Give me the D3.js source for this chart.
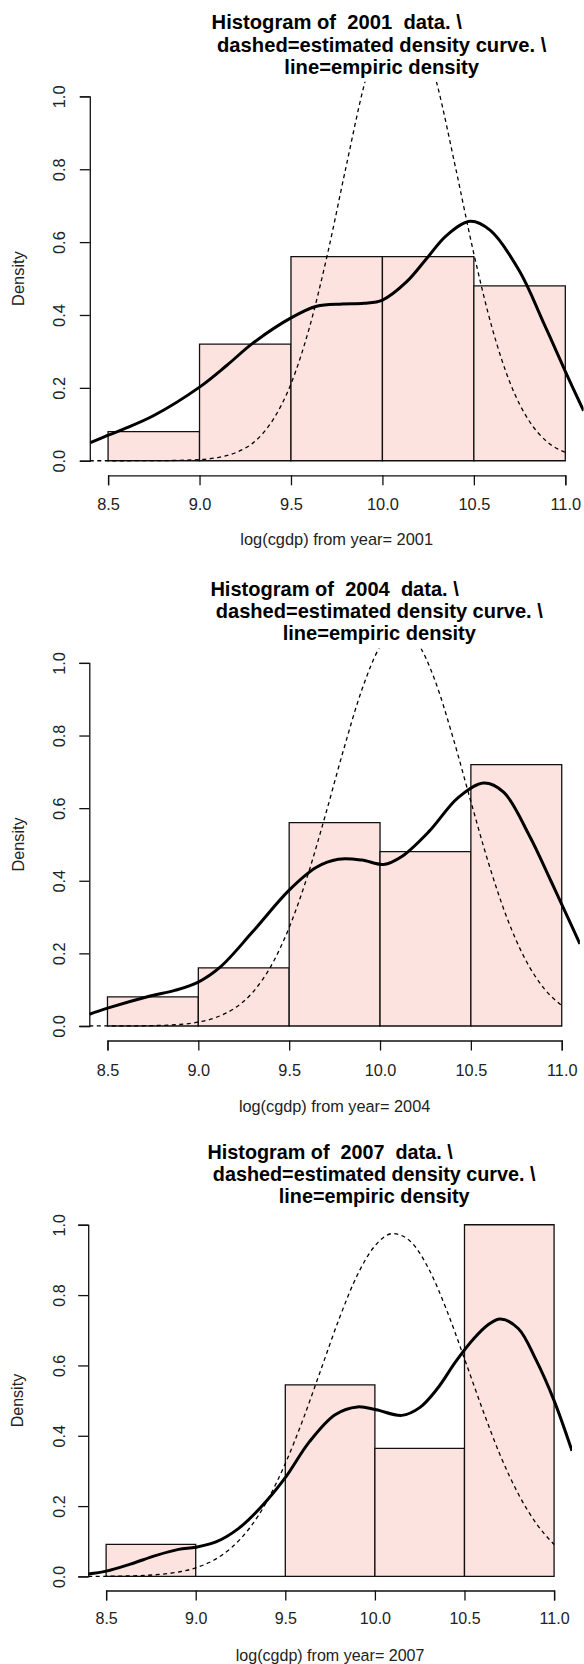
<!DOCTYPE html>
<html>
<head>
<meta charset="utf-8">
<script src="https://cdn.jsdelivr.net/npm/d3@7"></script>
<style>
  body { margin: 0; background: #fff; }
  svg { display: block; }
</style>
</head>
<body>
<div id="chart"></div>
<script>
// histogram breaks and axis ticks
var breaks = [8.5, 9.0, 9.5, 10.0, 10.5, 11.0];
var yTicks = [0, 0.2, 0.4, 0.6, 0.8, 1.0];
var years = ["2001", "2004", "2007"];

// bar densities per year
var dens2001 = [0.08, 0.32, 0.56, 0.56, 0.48];
var dens2004 = [0.08, 0.16, 0.56, 0.48, 0.72];
var dens2007 = [0.091, 0, 0.545, 0.364, 1.0];

// empiric density (solid)
var kdeX2001 = [8.4, 8.5, 8.6, 8.75, 9.0, 9.15, 9.29, 9.5, 9.64, 9.78, 9.9, 10.0, 10.13, 10.25, 10.35, 10.48, 10.59, 10.75, 10.88, 11.0, 11.1];
var kdeY2001 = [0.049, 0.07, 0.09, 0.124, 0.202, 0.262, 0.322, 0.392, 0.424, 0.43, 0.432, 0.441, 0.49, 0.56, 0.618, 0.657, 0.632, 0.52, 0.38, 0.245, 0.137];
var kdeX2004 = [8.4, 8.5, 8.73, 8.87, 9.0, 9.12, 9.3, 9.5, 9.65, 9.77, 9.9, 10.02, 10.12, 10.27, 10.43, 10.57, 10.68, 10.82, 10.94, 11.0, 11.1];
var kdeY2004 = [0.032, 0.049, 0.082, 0.098, 0.121, 0.162, 0.26, 0.374, 0.437, 0.459, 0.457, 0.445, 0.467, 0.536, 0.629, 0.669, 0.644, 0.526, 0.4, 0.335, 0.226];
var kdeX2007 = [8.4, 8.5, 8.635, 8.78, 8.905, 9.0, 9.113, 9.238, 9.362, 9.5, 9.633, 9.778, 9.903, 10.007, 10.15, 10.25, 10.35, 10.45, 10.55, 10.63, 10.7, 10.8, 10.9, 11.0, 11.1];
var kdeY2007 = [0.007, 0.015, 0.035, 0.06, 0.077, 0.083, 0.098, 0.136, 0.196, 0.281, 0.382, 0.46, 0.482, 0.474, 0.458, 0.48, 0.535, 0.61, 0.675, 0.715, 0.732, 0.705, 0.615, 0.5, 0.357];

// estimated normal density (dashed)
var normX = [8.4, 8.6, 8.8, 9.0, 9.1, 9.2, 9.3, 9.4, 9.5, 9.6, 9.7, 9.8, 9.9, 10.0, 10.1, 10.2, 10.3, 10.4, 10.5, 10.6, 10.7, 10.8, 10.9, 11.0];
var normY2001 = [0, 0, 0.0003, 0.0031, 0.0088, 0.0226, 0.052, 0.111, 0.211, 0.364, 0.568, 0.804, 1.031, 1.196, 1.257, 1.196, 1.031, 0.804, 0.568, 0.364, 0.211, 0.111, 0.052, 0.023];
var normY2004 = [0, 0.0002, 0.0017, 0.0107, 0.024, 0.049, 0.093, 0.165, 0.271, 0.412, 0.582, 0.762, 0.926, 1.045, 1.093, 1.06, 0.955, 0.797, 0.618, 0.444, 0.296, 0.183, 0.105, 0.056];
var normY2007 = [0.0002, 0.0011, 0.0058, 0.0246, 0.046, 0.082, 0.137, 0.216, 0.321, 0.448, 0.59, 0.732, 0.855, 0.94, 0.975, 0.952, 0.875, 0.758, 0.619, 0.476, 0.344, 0.235, 0.151, 0.091];

var series = [
  {year: years[0], dens: dens2001, kx: kdeX2001, ky: kdeY2001, ny: normY2001},
  {year: years[1], dens: dens2004, kx: kdeX2004, ky: kdeY2004, ny: normY2004},
  {year: years[2], dens: dens2007, kx: kdeX2007, ky: kdeY2007, ny: normY2007}
];

// plot regions (pixels) for each panel
var layout = [
  {left: 89.8, right: 583.6, top: 81.8, bottom: 475.3, titleY: [21.4, 44.6, 67.1], tickY: 504, labY: 539, densX: 18.6},
  {left: 89.3, right: 579.9, top: 648.4, bottom: 1040.5, titleY: [588.6, 610.5, 633], tickY: 1070, labY: 1106, densX: 18.6},
  {left: 88.2, right: 572.0, top: 1210.7, bottom: 1590.5, titleY: [1151.7, 1173.6, 1195.9], tickY: 1618.5, labY: 1655, densX: 17.5}
];

var font = "'Liberation Sans', Arial, Helvetica, sans-serif";

var svg = d3.select('#chart')
  .append('svg')
  .attr('width', 584)
  .attr('height', 1664)
  .attr('viewBox', '0 0 584 1664');

svg.append('rect').attr('width', 584).attr('height', 1664).attr('fill', '#fff');

series.forEach(function (s, i) {
  var L = layout[i];
  var k = (L.right - L.left) / 493.8;
  var fsTitle = 20.2 * k;
  var fsAxis = 16.4 * k;

  var x = d3.scaleLinear().domain([8.4, 11.1]).range([L.left, L.right]);
  var y = d3.scaleLinear().domain([-0.04, 1.04]).range([L.bottom, L.top]);

  var g = svg.append('g');

  var clipId = 'clip' + i;
  g.append('clipPath').attr('id', clipId)
    .append('rect')
    .attr('x', L.left).attr('y', L.top)
    .attr('width', L.right - L.left).attr('height', L.bottom - L.top);

  // bars
  var bins = s.dens.map(function (d, j) { return {x0: breaks[j], x1: breaks[j + 1], d: d}; });
  g.selectAll('path.bar')
    .data(bins)
    .enter().append('path')
    .attr('class', 'bar')
    .attr('d', function (b) {
      return 'M' + x(b.x0) + ',' + y(0) + 'V' + y(b.d) + 'H' + x(b.x1) + 'V' + y(0) + 'Z';
    })
    .attr('fill', '#fde3df')
    .attr('stroke', '#111')
    .attr('stroke-width', 1.3);

  var line = d3.line()
    .x(function (d) { return x(d[0]); })
    .y(function (d) { return y(d[1]); })
    .curve(d3.curveMonotoneX);

  var curves = g.append('g').attr('clip-path', 'url(#' + clipId + ')');

  curves.append('path')
    .attr('d', line(d3.zip(normX, s.ny)))
    .attr('fill', 'none')
    .attr('stroke', '#000')
    .attr('stroke-width', 1.3)
    .attr('stroke-dasharray', '4,3.5');

  curves.append('path')
    .attr('d', line.curve(d3.curveCatmullRom.alpha(0.5))(d3.zip(s.kx, s.ky)))
    .attr('fill', 'none')
    .attr('stroke', '#000')
    .attr('stroke-width', 3);

  // x axis, spanning the breaks
  var xa = d3.scaleLinear().domain([breaks[0], breaks[breaks.length - 1]])
    .range([x(breaks[0]), x(breaks[breaks.length - 1])]);
  var tickPad = (L.tickY - L.bottom) + 0.358 * fsAxis - 10 - 0.71 * fsAxis;
  var xAxis = g.append('g')
    .attr('transform', 'translate(0,' + L.bottom + ')')
    .call(d3.axisBottom(xa).tickValues(breaks).tickSize(10).tickPadding(tickPad).tickFormat(d3.format('.1f')));

  // y axis
  var ya = d3.scaleLinear().domain([0, 1]).range([y(0), y(1)]);
  var yAxis = g.append('g')
    .attr('transform', 'translate(' + L.left + ',0)')
    .call(d3.axisLeft(ya).tickValues(yTicks).tickSize(10).tickFormat(d3.format('.1f')));

  [xAxis, yAxis].forEach(function (ax) {
    ax.attr('color', '#111').attr('font-family', font).attr('font-size', fsAxis);
    ax.selectAll('path, line').attr('stroke-width', 1.3);
  });
  xAxis.selectAll('text').attr('fill', '#222');
  yAxis.selectAll('text')
    .attr('x', null)
    .attr('dy', '0.358em')
    .attr('text-anchor', 'middle')
    .attr('fill', '#222')
    .attr('transform', 'translate(' + (59.5 - L.left) + ',0) rotate(-90)');

  // axis titles
  g.append('text')
    .attr('x', (L.left + L.right) / 2)
    .attr('y', L.labY)
    .attr('dy', '0.358em')
    .attr('text-anchor', 'middle')
    .attr('font-family', font)
    .attr('font-size', fsAxis)
    .attr('fill', '#222')
    .text('log(cgdp) from year= ' + s.year);

  g.append('text')
    .attr('transform', 'translate(' + L.densX + ',' + (L.top + L.bottom) / 2 + ') rotate(-90)')
    .attr('dy', '0.358em')
    .attr('text-anchor', 'middle')
    .attr('font-family', font)
    .attr('font-size', fsAxis)
    .attr('fill', '#222')
    .text('Density');

  // main title, three lines; lines 2 and 3 carry leading indentation
  var titleLines = [
    'Histogram of  ' + s.year + '  data. \\',
    'dashed=estimated density curve. \\',
    'line=empiric density'
  ];
  var cx = (L.left + L.right) / 2;
  titleLines.forEach(function (t, j) {
    g.append('text')
      .attr('x', j === 0 ? cx : cx + 45 * k)
      .attr('y', L.titleY[j])
      .attr('dy', '0.358em')
      .attr('text-anchor', 'middle')
      .attr('font-family', font)
      .attr('font-weight', 'bold')
      .attr('font-size', fsTitle)
      .attr('fill', '#000')
      .style('white-space', 'pre')
      .text(t);
  });
});
</script>
</body>
</html>
